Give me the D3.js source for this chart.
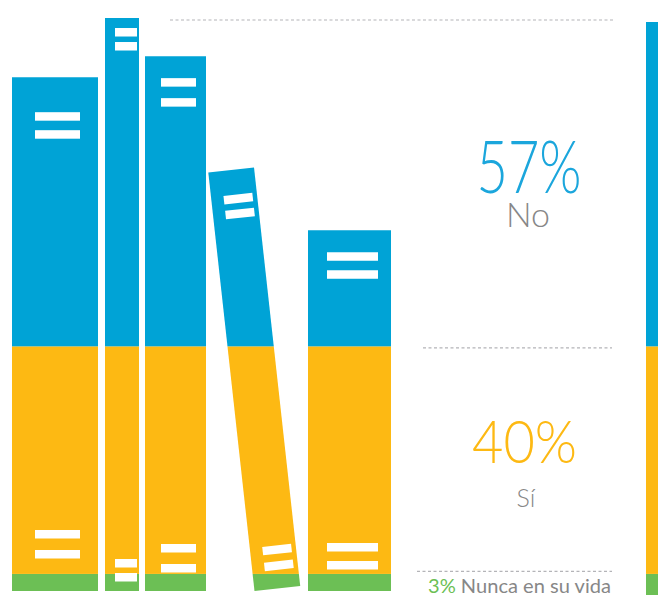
<!DOCTYPE html>
<html><head><meta charset="utf-8">
<script src="https://cdn.jsdelivr.net/npm/d3@7/dist/d3.min.js"></script>
<style>
html,body{margin:0;padding:0;background:#fff;}
svg{display:block;}
</style></head>
<body>
<script>
// ---- data ----
const categories = ["Nunca en su vida", "Sí", "No"];   // stacked bottom -> top
const values = [3, 40, 57];                              // percent
const percentLabels = ["3%", "40%", "57%"];
const bookHeights = [90.3, 100.7, 94.0, 74.0, 63.4];     // book spine length, same % scale

// ---- style / layout ----
const W = 658, H = 595;
const colors = {"No": "#00a3d6", "Sí": "#fdb913", "Nunca en su vida": "#6cbf55"};
const grey = "#878787";
const stripeH = 8.5;
const bookLayout = [
  {x: 12,  w: 86, sx: 23,   sw: 45, tops: [35, 53], bots: [61, 41], rot: 0},
  {x: 105, w: 34, sx: 10,   sw: 22, tops: [10, 24], bots: [32, 18], rot: 0},
  {x: 145, w: 61, sx: 16,   sw: 35, tops: [22, 42], bots: [47, 27], rot: 0},
  {x: 254.5, w: 46, sx: 12.5, sw: 29, tops: [25, 40], bots: [43, 27], rot: -6.3},
  {x: 308, w: 83, sx: 19,   sw: 51, tops: [22, 40], bots: [48, 30], rot: 0}
];

const svg = d3.select("body").append("svg").attr("width", W).attr("height", H);
const y = d3.scaleLinear().domain([0, 100]).range([591, 22]);

// stacked segments
let cum = 0;
const segs = categories.map((c, i) => { const s = {cat: c, v0: cum, v1: cum + values[i], label: percentLabels[i]}; cum += values[i]; return s; });

const defs = svg.append("defs");

bookHeights.forEach((h, i) => {
  const L = bookLayout[i];
  const bottom = y(0);
  const top = y(h);
  const len = bottom - top;
  const g = svg.append("g");
  const clipId = "clip" + i;
  defs.append("clipPath").attr("id", clipId)
    .append("rect")
    .attr("x", L.x).attr("y", top).attr("width", L.w).attr("height", len)
    .attr("transform", `rotate(${L.rot},${L.x},${bottom})`);
  const bands = g.append("g").attr("clip-path", `url(#${clipId})`);
  segs.forEach((s, j) => {
    const yTop = j === segs.length - 1 ? 0 : y(s.v1);
    const yBot = j === 0 ? H : y(s.v0);
    bands.append("rect")
      .attr("x", L.x - 60).attr("y", yTop)
      .attr("width", L.w + 120).attr("height", yBot - yTop)
      .attr("fill", colors[s.cat]);
  });
  const sg = g.append("g").attr("transform", `rotate(${L.rot},${L.x},${bottom})`);
  L.tops.forEach(o => sg.append("rect").attr("x", L.x + L.sx).attr("y", top + o)
    .attr("width", L.sw).attr("height", stripeH).attr("fill", "#fff"));
  L.bots.forEach(o => sg.append("rect").attr("x", L.x + L.sx).attr("y", bottom - o)
    .attr("width", L.sw).attr("height", stripeH).attr("fill", "#fff"));
});

// right-hand stacked bar (partially cut off at the page edge)
segs.forEach((s, j) => {
  const yTop = y(s.v1);
  const yBot = j === 0 ? H + 5 : y(s.v0);
  svg.append("rect").attr("x", 646).attr("y", yTop).attr("width", 20)
    .attr("height", yBot - yTop).attr("fill", colors[s.cat]);
});

// dotted guide lines at segment boundaries
const guides = [
  {v: 100, x1: 170, x2: 615, dy: -2},
  {v: segs[1].v1, x1: 423, x2: 612, dy: 1.5},
  {v: segs[0].v1, x1: 417, x2: 612, dy: -2.5}
];
guides.forEach(gd => {
  svg.append("line").attr("x1", gd.x1).attr("x2", gd.x2)
    .attr("y1", y(gd.v) + gd.dy).attr("y2", y(gd.v) + gd.dy)
    .attr("stroke", "#b4b4b8").attr("stroke-width", 1.2)
    .attr("stroke-dasharray", "3,2.5");
});

const font = "Lato, 'Open Sans', sans-serif";
// No
svg.append("text").attr("x", 529).attr("y", 193).attr("text-anchor", "middle")
  .attr("font-family", font).attr("font-weight", 300).attr("font-size", 72)
  .attr("textLength", 105).attr("lengthAdjust", "spacingAndGlyphs")
  .attr("fill", "#1ba6dc").text(segs[2].label);
svg.append("text").attr("x", 528).attr("y", 227).attr("text-anchor", "middle")
  .attr("font-family", font).attr("font-weight", 300).attr("font-size", 34)
  .attr("fill", grey).text(segs[2].cat);
// Sí
svg.append("text").attr("x", 524.5).attr("y", 463).attr("text-anchor", "middle")
  .attr("font-family", font).attr("font-weight", 300).attr("font-size", 59)
  .attr("textLength", 105).attr("lengthAdjust", "spacingAndGlyphs")
  .attr("fill", "#fdb913").text(segs[1].label);
svg.append("text").attr("x", 526).attr("y", 506.5).attr("text-anchor", "middle")
  .attr("font-family", font).attr("font-weight", 300).attr("font-size", 25)
  .attr("fill", grey).text(segs[1].cat);
// Nunca
const t = svg.append("text").attr("x", 428).attr("y", 592.5)
  .attr("font-family", font).attr("font-weight", 400).attr("font-size", 19)
  .attr("textLength", 183).attr("lengthAdjust", "spacingAndGlyphs");
t.append("tspan").attr("fill", "#6cbf55").text(segs[0].label + " ");
t.append("tspan").attr("fill", grey).text(segs[0].cat);
</script>
</body></html>
